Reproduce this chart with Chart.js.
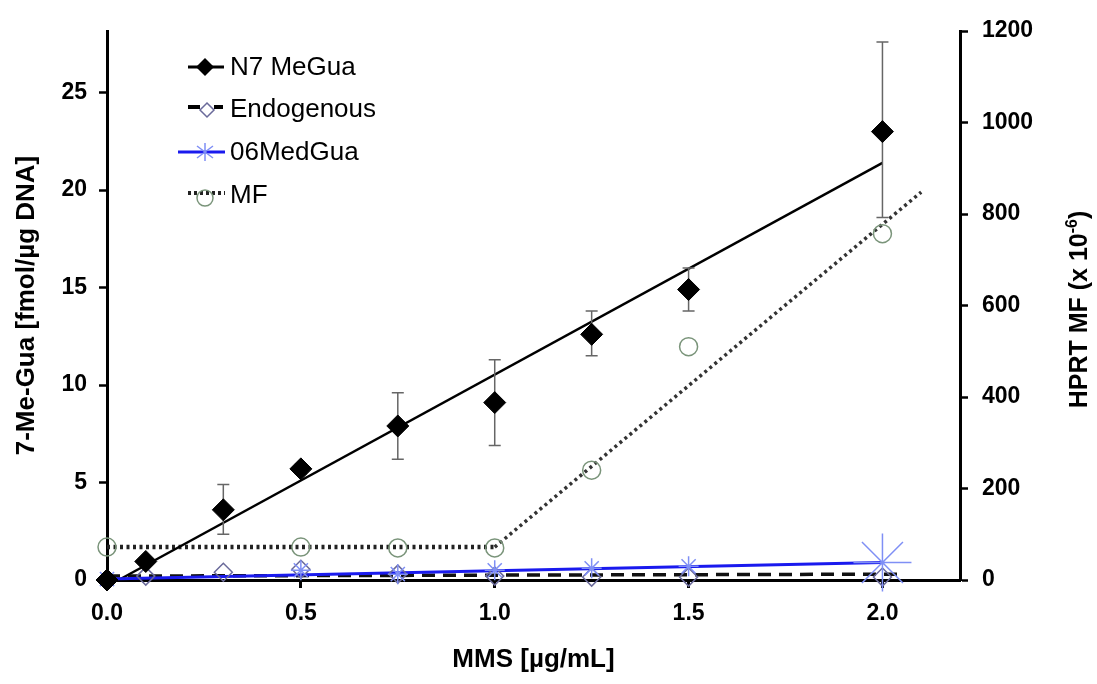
<!DOCTYPE html>
<html>
<head>
<meta charset="utf-8">
<script src="https://cdn.jsdelivr.net/npm/chart.js@4/dist/chart.umd.min.js"></script>
<style>
  body { margin: 0; background: #fff; }
  canvas { display: block; }
</style>
</head>
<body>
<canvas id="chart" width="1097" height="684"></canvas>
<script>
// MMS doses and measured adducts
const doses = [0, 0.1, 0.3, 0.5, 0.75, 1.0, 1.25, 1.5, 2.0];
const n7MeGua = [0, 0.95, 3.6, 5.7, 7.9, 9.1, 12.6, 14.9, 23.0];
const n7Low = [0, 0.8, 2.35, 5.45, 6.2, 6.9, 11.5, 13.8, 18.6];
const n7High = [0, 1.1, 4.9, 5.95, 9.6, 11.3, 13.8, 16.0, 27.6];
const endogenous = [0.05, 0.2, 0.4, 0.55, 0.3, 0.2, 0.15, 0.15, 0.15];

const o6Doses = [0, 0.5, 0.75, 1.0, 1.25, 1.5, 2.0];
const o6MeGua = [0.05, 0.5, 0.3, 0.5, 0.6, 0.7, 0.9];

const mfDoses = [0, 0.5, 0.75, 1.0, 1.25, 1.5, 2.0];
const mfValues = [72, 72, 70, 70, 240, 510, 757];

// fitted lines (end points)
const n7FitX = [0.03, 2.0], n7FitY = [0, 21.4];
const endoFitX = [0, 2.05], endoFitY = [0.2, 0.3];
const o6FitX = [0, 2.0], o6FitY = [0.05, 0.9];
const mfFlatX = [0, 1.0], mfFlatY = [72, 72];
const mfRiseX = [1.0, 2.1], mfRiseY = [72, 848];

const xTicks = [0, 0.5, 1.0, 1.5, 2.0];

const FONT = "'Liberation Sans', Arial, sans-serif";
const pts = (xs, ys) => xs.map((x, i) => ({ x: x, y: ys[i] }));

// error bars under the N7 diamonds
const errorBars = {
    id: 'errorBars',
    beforeDatasetDraw(chart, args) {
        if (args.index !== 0) return;
        const ctx = chart.ctx;
        const x = chart.scales.x, y = chart.scales.y;
        ctx.save();
        ctx.strokeStyle = '#666';
        ctx.lineWidth = 1.5;
        doses.forEach((d, i) => {
            if (n7High[i] === n7Low[i]) return;
            const px = x.getPixelForValue(d);
            const top = y.getPixelForValue(n7High[i]);
            const bot = y.getPixelForValue(n7Low[i]);
            ctx.beginPath();
            ctx.moveTo(px, top); ctx.lineTo(px, bot);
            ctx.moveTo(px - 6, top); ctx.lineTo(px + 6, top);
            ctx.moveTo(px - 6, bot); ctx.lineTo(px + 6, bot);
            ctx.stroke();
        });
        ctx.restore();
    }
};

// legend with line + marker samples, and right axis title (reads bottom to top)
const extras = {
    id: 'extras',
    afterDraw(chart) {
        const ctx = chart.ctx;
        ctx.save();
        ctx.font = '26px ' + FONT;
        ctx.fillStyle = '#000';
        ctx.textBaseline = 'middle';
        ctx.textAlign = 'left';

        // N7 MeGua
        let yy = 67;
        ctx.strokeStyle = '#000'; ctx.lineWidth = 3; ctx.setLineDash([]);
        ctx.beginPath(); ctx.moveTo(188, yy); ctx.lineTo(224, yy); ctx.stroke();
        ctx.beginPath(); ctx.moveTo(205, yy - 9); ctx.lineTo(214, yy); ctx.lineTo(205, yy + 9); ctx.lineTo(196, yy); ctx.closePath();
        ctx.fill();
        ctx.fillText('N7 MeGua', 230, yy + 1);

        // Endogenous
        yy = 109;
        ctx.lineWidth = 4;
        ctx.beginPath(); ctx.moveTo(188, yy - 2); ctx.lineTo(200, yy - 2); ctx.moveTo(214, yy - 2); ctx.lineTo(223, yy - 2); ctx.stroke();
        ctx.strokeStyle = '#6a6a9a'; ctx.lineWidth = 1.5;
        ctx.beginPath(); ctx.moveTo(207, yy - 6); ctx.lineTo(214, yy + 1); ctx.lineTo(207, yy + 8); ctx.lineTo(200, yy + 1); ctx.closePath();
        ctx.stroke();
        ctx.fillText('Endogenous', 230, yy + 1);

        // 06MedGua
        yy = 152;
        ctx.strokeStyle = '#1a1aee'; ctx.lineWidth = 3;
        ctx.beginPath(); ctx.moveTo(178, yy); ctx.lineTo(225, yy); ctx.stroke();
        ctx.strokeStyle = '#7f8ff5'; ctx.lineWidth = 1.5;
        ctx.beginPath();
        ctx.moveTo(205, yy - 9); ctx.lineTo(205, yy + 9);
        ctx.moveTo(197, yy - 6); ctx.lineTo(213, yy + 6);
        ctx.moveTo(213, yy - 6); ctx.lineTo(197, yy + 6);
        ctx.stroke();
        ctx.fillText('06MedGua', 230, yy + 1);

        // MF
        yy = 195;
        ctx.strokeStyle = '#222'; ctx.lineWidth = 4; ctx.setLineDash([3, 3]);
        ctx.beginPath(); ctx.moveTo(188, yy - 2); ctx.lineTo(225, yy - 2); ctx.stroke();
        ctx.setLineDash([]);
        ctx.strokeStyle = '#7a947a'; ctx.lineWidth = 1.5;
        ctx.beginPath(); ctx.arc(205, yy + 3, 8, 0, Math.PI * 2); ctx.stroke();
        ctx.fillText('MF', 230, yy + 1);

        // right axis title
        const area = chart.chartArea;
        const main = 'HPRT MF (x 10';
        ctx.font = 'bold 25px ' + FONT;
        const w1 = ctx.measureText(main).width;
        ctx.font = 'bold 16px ' + FONT;
        const w2 = ctx.measureText('-6').width;
        ctx.font = 'bold 25px ' + FONT;
        const w3 = ctx.measureText(')').width;
        const total = w1 + w2 + w3;
        ctx.translate(1087, (area.top + area.bottom) / 2 + 4);
        ctx.rotate(-Math.PI / 2);
        ctx.textBaseline = 'alphabetic';
        let sx = -total / 2;
        ctx.fillText(main, sx, 0); sx += w1;
        ctx.font = 'bold 16px ' + FONT;
        ctx.fillText('-6', sx, -10); sx += w2;
        ctx.font = 'bold 25px ' + FONT;
        ctx.fillText(')', sx, 0);
        ctx.restore();
    }
};

const tickFont = { family: FONT, size: 23, weight: 'bold' };
const titleFont = { family: FONT, size: 26, weight: 'bold' };

new Chart(document.getElementById('chart'), {
    type: 'line',
    data: {
        datasets: [
            {
                label: 'N7 MeGua',
                data: pts(doses, n7MeGua),
                showLine: false,
                pointStyle: 'rectRot',
                pointRadius: 11,
                pointBackgroundColor: '#000',
                pointBorderColor: '#000',
                pointBorderWidth: 1,
                yAxisID: 'y',
                order: 1,
                clip: false
            },
            {
                label: 'N7 fit',
                data: pts(n7FitX, n7FitY),
                borderColor: '#000',
                borderWidth: 2.5,
                pointRadius: 0,
                yAxisID: 'y',
                order: 6,
                clip: false
            },
            {
                label: 'Endogenous',
                data: pts(doses, endogenous),
                showLine: false,
                pointStyle: 'rectRot',
                pointRadius: 9,
                pointBackgroundColor: 'rgba(255,255,255,0)',
                pointBorderColor: '#6a6a9a',
                pointBorderWidth: 1.5,
                yAxisID: 'y',
                order: 3,
                clip: false
            },
            {
                label: 'Endogenous fit',
                data: pts(endoFitX, endoFitY),
                borderColor: '#111',
                borderWidth: 3.5,
                borderDash: [13, 8],
                pointRadius: 0,
                yAxisID: 'y',
                order: 7,
                clip: false
            },
            {
                label: '06MedGua',
                data: pts(o6Doses, o6MeGua),
                showLine: false,
                pointStyle: 'star',
                pointRadius: [10, 10, 10, 10, 10, 10, 29],
                pointBorderColor: '#7f8ff5',
                pointBorderWidth: 1.5,
                yAxisID: 'y',
                order: 2,
                clip: false
            },
            {
                label: '06MedGua fit',
                data: pts(o6FitX, o6FitY),
                borderColor: '#1a1aee',
                borderWidth: 3,
                pointRadius: 0,
                yAxisID: 'y',
                order: 5,
                clip: false
            },
            {
                label: 'MF',
                data: pts(mfDoses, mfValues),
                showLine: false,
                pointStyle: 'circle',
                pointRadius: 9,
                pointBackgroundColor: 'rgba(255,255,255,0)',
                pointBorderColor: '#7a947a',
                pointBorderWidth: 1.5,
                yAxisID: 'y2',
                order: 4,
                clip: false
            },
            {
                label: 'MF flat',
                data: pts(mfFlatX, mfFlatY),
                borderColor: '#222',
                borderWidth: 4.5,
                borderDash: [3, 3.5],
                pointRadius: 0,
                yAxisID: 'y2',
                order: 8,
                clip: false
            },
            {
                label: 'MF rise',
                data: pts(mfRiseX, mfRiseY),
                borderColor: '#333',
                borderWidth: 3.5,
                borderDash: [3, 3.5],
                pointRadius: 0,
                yAxisID: 'y2',
                order: 8,
                clip: false
            }
        ]
    },
    options: {
        responsive: false,
        animation: false,
        layout: { padding: { top: 31 } },
        plugins: {
            legend: { display: false },
            tooltip: { enabled: false }
        },
        scales: {
            x: {
                type: 'linear',
                min: 0,
                max: 2.2,
                afterFit: s => { s.height = 104; },
                afterBuildTicks: s => { s.ticks = xTicks.map(v => ({ value: v })); },
                ticks: {
                    callback: v => v.toFixed(1),
                    color: '#000',
                    font: tickFont,
                    padding: 12,
                    maxRotation: 0,
                    autoSkip: false
                },
                grid: { drawOnChartArea: false, tickLength: 8, tickColor: '#000', tickWidth: 3 },
                border: { color: '#000', width: 3 },
                title: { display: true, text: 'MMS [µg/mL]', color: '#000', font: titleFont, padding: { top: 0, bottom: 9 } }
            },
            y: {
                position: 'left',
                min: 0,
                max: 28.16,
                afterFit: s => { s.width = 107; },
                ticks: { stepSize: 5, includeBounds: false, color: '#000', font: tickFont, padding: 12, callback: v => String(v) },
                grid: { drawOnChartArea: false, tickLength: 8, tickColor: '#000', tickWidth: 2.5 },
                border: { color: '#000', width: 3 },
                title: { display: true, text: '7-Me-Gua [fmol/µg DNA]', color: '#000', font: titleFont, padding: { top: 11, bottom: 0 } }
            },
            y2: {
                position: 'right',
                min: 0,
                max: 1200,
                afterFit: s => { s.width = 137; },
                ticks: { stepSize: 200, color: '#000', font: tickFont, padding: 14, callback: v => String(v) },
                grid: { drawOnChartArea: false, tickLength: 8, tickColor: '#000', tickWidth: 2.5 },
                border: { color: '#000', width: 3 }
            }
        }
    },
    plugins: [errorBars, extras]
});
</script>
</body>
</html>
